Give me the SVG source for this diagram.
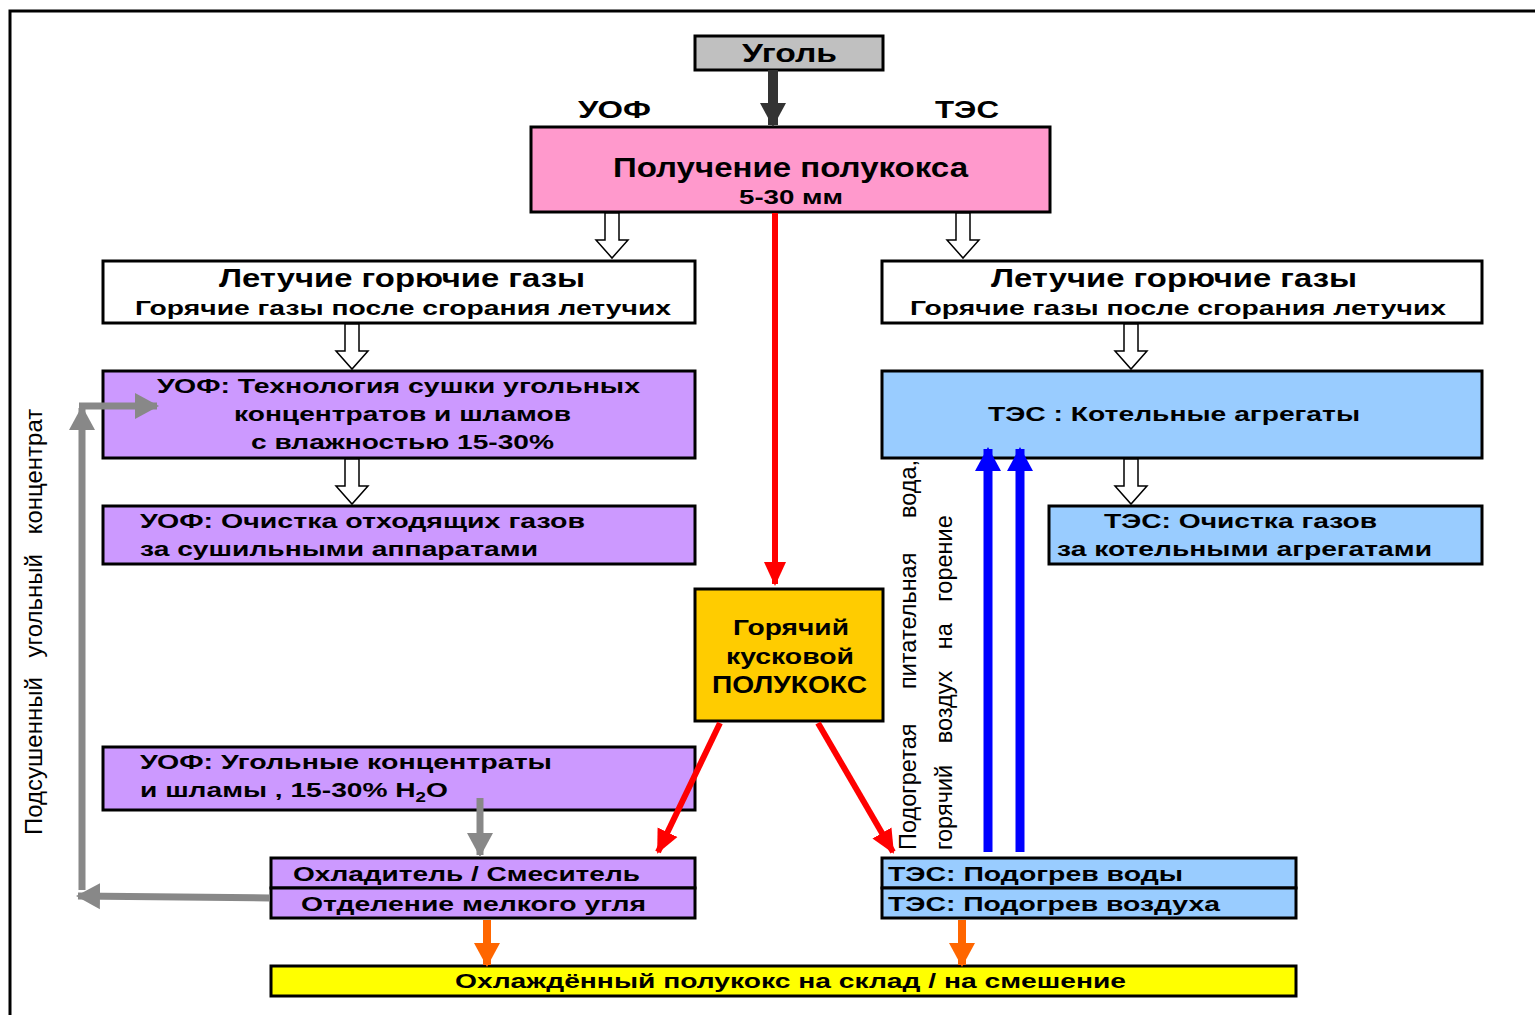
<svg xmlns="http://www.w3.org/2000/svg" width="1535" height="1015" viewBox="0 0 1535 1015">
<style>
.b{stroke:#000;stroke-width:3}
.t{font-family:"Liberation Sans",Arial,sans-serif;font-weight:bold;fill:#000;font-size:21px}
.v{font-family:"Liberation Sans",Arial,sans-serif;fill:#000}
.h{fill:#fff;stroke:#000;stroke-width:1.5}
</style>
<defs>
<marker id="mk" markerUnits="userSpaceOnUse" markerWidth="26" markerHeight="26" refX="22" refY="13" orient="auto"><path d="M0,0 L24,13 L0,26 Z" fill="#333"/></marker>
<marker id="mr" markerUnits="userSpaceOnUse" markerWidth="26" markerHeight="24" refX="22" refY="12" orient="auto"><path d="M0,1 L24,12 L0,23 Z" fill="#f00"/></marker>
<marker id="mb" markerUnits="userSpaceOnUse" markerWidth="26" markerHeight="28" refX="22" refY="14" orient="auto"><path d="M0,1 L24,14 L0,27 Z" fill="#00f"/></marker>
<marker id="mg" markerUnits="userSpaceOnUse" markerWidth="26" markerHeight="28" refX="22" refY="14" orient="auto"><path d="M0,1 L24,14 L0,27 Z" fill="#888"/></marker>
<marker id="mo" markerUnits="userSpaceOnUse" markerWidth="26" markerHeight="28" refX="22" refY="14" orient="auto"><path d="M0,1 L24,14 L0,27 Z" fill="#f60"/></marker>
</defs>
<rect x="0" y="0" width="1535" height="1015" fill="#fff"/>
<path d="M10,1015 V11 H1535" fill="none" stroke="#000" stroke-width="3"/>

<g id="coal"><rect class="b" x="695" y="36" width="188" height="34" fill="#c0c0c0"/><text class="t" x="742" y="62" style="font-size:25px" textLength="95" lengthAdjust="spacingAndGlyphs">Уголь</text></g>
<g id="label-uof"><text class="t" x="578" y="118" style="font-size:23px" textLength="73" lengthAdjust="spacingAndGlyphs">УОФ</text></g>
<g id="label-tes"><text class="t" x="935" y="118" style="font-size:23px" textLength="64" lengthAdjust="spacingAndGlyphs">ТЭС</text></g>
<g id="semicoke"><rect class="b" x="531" y="127" width="519" height="85" fill="#ff99cc"/><text class="t" x="613" y="177" style="font-size:27px" textLength="355" lengthAdjust="spacingAndGlyphs">Получение полукокса</text><text class="t" x="739" y="204" style="font-size:20px" textLength="104" lengthAdjust="spacingAndGlyphs">5-30 мм</text></g>
<g id="gas-left"><rect class="b" x="103" y="261" width="592" height="62" fill="#fff"/><text class="t" x="219" y="287" style="font-size:25px" textLength="366" lengthAdjust="spacingAndGlyphs">Летучие горючие газы</text><text class="t" x="135" y="315" textLength="536" lengthAdjust="spacingAndGlyphs">Горячие газы после сгорания летучих</text></g>
<g id="gas-right"><rect class="b" x="882" y="261" width="600" height="62" fill="#fff"/><text class="t" x="991" y="287" style="font-size:25px" textLength="366" lengthAdjust="spacingAndGlyphs">Летучие горючие газы</text><text class="t" x="910" y="315" textLength="536" lengthAdjust="spacingAndGlyphs">Горячие газы после сгорания летучих</text></g>
<g id="uof-dry"><rect class="b" x="103" y="371" width="592" height="87" fill="#cc99ff"/><text class="t" x="157" y="393" textLength="483" lengthAdjust="spacingAndGlyphs">УОФ: Технология сушки угольных</text><text class="t" x="234" y="421" textLength="337" lengthAdjust="spacingAndGlyphs">концентратов и шламов</text><text class="t" x="251" y="449" textLength="303" lengthAdjust="spacingAndGlyphs">с влажностью 15-30%</text></g>
<g id="tes-boiler"><rect class="b" x="882" y="371" width="600" height="87" fill="#99ccff"/><text class="t" x="988" y="421" textLength="372" lengthAdjust="spacingAndGlyphs">ТЭС : Котельные агрегаты</text></g>
<g id="uof-clean"><rect class="b" x="103" y="506" width="592" height="58" fill="#cc99ff"/><text class="t" x="140" y="528" textLength="445" lengthAdjust="spacingAndGlyphs">УОФ: Очистка отходящих газов</text><text class="t" x="140" y="556" textLength="398" lengthAdjust="spacingAndGlyphs">за сушильными аппаратами</text></g>
<g id="tes-clean"><rect class="b" x="1049" y="506" width="433" height="58" fill="#99ccff"/><text class="t" x="1104" y="528" textLength="273" lengthAdjust="spacingAndGlyphs">ТЭС: Очистка газов</text><text class="t" x="1057" y="556" textLength="375" lengthAdjust="spacingAndGlyphs">за котельными агрегатами</text></g>
<g id="hot-coke"><rect class="b" x="695" y="589" width="188" height="132" fill="#ffcc00"/><text class="t" x="733" y="635" style="font-size:22px" textLength="116" lengthAdjust="spacingAndGlyphs">Горячий</text><text class="t" x="726" y="664" style="font-size:22px" textLength="128" lengthAdjust="spacingAndGlyphs">кусковой</text><text class="t" x="712" y="693" style="font-size:24px" textLength="155" lengthAdjust="spacingAndGlyphs">ПОЛУКОКС</text></g>
<g id="uof-conc"><rect class="b" x="103" y="747" width="592" height="63" fill="#cc99ff"/><text class="t" x="140" y="769" textLength="412" lengthAdjust="spacingAndGlyphs">УОФ: Угольные концентраты</text><text class="t" x="140" y="797" textLength="308" lengthAdjust="spacingAndGlyphs">и шламы , 15-30% H<tspan style="font-size:14px" dy="5">2</tspan><tspan dy="-5">O</tspan></text></g>
<g id="cooler"><rect class="b" x="271" y="858" width="424" height="30" fill="#cc99ff"/><rect class="b" x="271" y="888" width="424" height="30" fill="#cc99ff"/><text class="t" x="293" y="881" textLength="347" lengthAdjust="spacingAndGlyphs">Охладитель / Смеситель</text><text class="t" x="301" y="911" textLength="345" lengthAdjust="spacingAndGlyphs">Отделение мелкого угля</text></g>
<g id="tes-heat"><rect class="b" x="882" y="858" width="414" height="30" fill="#99ccff"/><rect class="b" x="882" y="888" width="414" height="30" fill="#99ccff"/><text class="t" x="888" y="881" textLength="295" lengthAdjust="spacingAndGlyphs">ТЭС: Подогрев воды</text><text class="t" x="888" y="911" textLength="332" lengthAdjust="spacingAndGlyphs">ТЭС: Подогрев воздуха</text></g>
<g id="cooled"><rect class="b" x="271" y="966" width="1025" height="30" fill="#ffff00"/><text class="t" x="455" y="988" textLength="671" lengthAdjust="spacingAndGlyphs">Охлаждённый полукокс на склад / на смешение</text></g>
<g id="label-dried"><text class="v" font-size="24" transform="translate(42,835) rotate(-90)" word-spacing="13">Подсушенный угольный концентрат</text></g>
<g id="label-water"><text class="v" font-size="23.5" transform="translate(916,850) rotate(-90)" word-spacing="28">Подогретая питательная вода,</text></g>
<g id="label-air"><text class="v" font-size="23.5" transform="translate(952,850) rotate(-90)" word-spacing="15">горячий воздух на горение</text></g>

<g id="connectors">
<line x1="773" y1="70" x2="773" y2="125" stroke="#333" stroke-width="10" marker-end="url(#mk)"/>
<line x1="775" y1="213" x2="775" y2="584" stroke="#f00" stroke-width="6" marker-end="url(#mr)"/>
<line x1="720" y1="723" x2="658" y2="852" stroke="#f00" stroke-width="6" marker-end="url(#mr)"/>
<line x1="818" y1="723" x2="893" y2="852" stroke="#f00" stroke-width="6" marker-end="url(#mr)"/>
<line x1="988" y1="852" x2="988" y2="449" stroke="#00f" stroke-width="9" marker-end="url(#mb)"/>
<line x1="1020" y1="852" x2="1020" y2="449" stroke="#00f" stroke-width="9" marker-end="url(#mb)"/>
<line x1="480" y1="798" x2="480" y2="855" stroke="#888" stroke-width="7" marker-end="url(#mg)"/>
<line x1="270" y1="898" x2="78" y2="896" stroke="#888" stroke-width="7" marker-end="url(#mg)"/>
<line x1="82" y1="890" x2="82" y2="408" stroke="#888" stroke-width="7" marker-end="url(#mg)"/>
<line x1="79" y1="406" x2="157" y2="406" stroke="#888" stroke-width="7" marker-end="url(#mg)"/>
<line x1="487" y1="920" x2="487" y2="965" stroke="#f60" stroke-width="8" marker-end="url(#mo)"/>
<line x1="962" y1="920" x2="962" y2="965" stroke="#f60" stroke-width="8" marker-end="url(#mo)"/>
<polygon class="h" points="605,213 619,213 619,240 628,240 612,258 596,240 605,240"/>
<polygon class="h" points="956,213 970,213 970,240 979,240 963,258 947,240 956,240"/>
<polygon class="h" points="345,324 359,324 359,351 368,351 352,369 336,351 345,351"/>
<polygon class="h" points="1124,324 1138,324 1138,351 1147,351 1131,369 1115,351 1124,351"/>
<polygon class="h" points="345,459 359,459 359,486 368,486 352,504 336,486 345,486"/>
<polygon class="h" points="1124,459 1138,459 1138,486 1147,486 1131,504 1115,486 1124,486"/>
</g>
</svg>
